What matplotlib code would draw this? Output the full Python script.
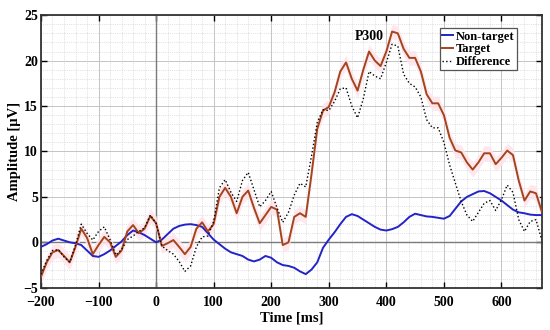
import numpy as np
from matplotlib import pyplot as plt
from matplotlib.ticker import MultipleLocator

# time axis, 10 ms steps
time_ms = list(range(-200, 680, 10))

non_target = [-0.5, -0.2, 0.2, 0.4, 0.2, 0.0, -0.1, -0.3, -0.9, -1.5,
              -1.6, -1.3, -0.9, -0.4, 0.1, 0.8, 1.3, 1.1, 0.8, 0.4,
              0.0, 0.3, 0.9, 1.5, 1.8, 1.95, 2.0, 1.9, 1.7, 1.0,
              0.3, -0.2, -0.7, -1.1, -1.3, -1.5, -1.9, -2.1, -1.9, -1.5,
              -1.7, -2.2, -2.5, -2.6, -2.8, -3.2, -3.5, -3.0, -2.2, -0.6,
              0.3, 1.1, 2.0, 2.8, 3.1, 2.9, 2.5, 2.1, 1.7, 1.4,
              1.3, 1.45, 1.7, 2.2, 2.8, 3.15, 3.0, 2.85, 2.8, 2.7,
              2.6, 2.9, 3.7, 4.5, 5.0, 5.3, 5.6, 5.65, 5.4, 5.0,
              4.6, 4.1, 3.6, 3.3, 3.2, 3.05, 3.0, 3.0]

target = [-3.8, -2.2, -1.1, -0.85, -1.5, -2.2, -0.5, 1.5, 0.5, -1.3,
          -0.3, 0.6, 0.0, -1.6, -0.9, 1.2, 1.9, 1.0, 1.5, 2.9,
          2.1, -0.4, -0.1, 0.25, -0.5, -1.3, -0.5, 1.5, 2.2, 1.2,
          2.0, 5.0, 6.0, 5.0, 3.2, 5.0, 5.7, 3.8, 2.1, 3.0,
          3.9, 3.6, -0.3, 0.0, 2.8, 3.2, 2.8, 7.5, 12.5, 14.5,
          14.9, 16.5, 18.8, 19.8, 18.0, 16.7, 19.0, 21.0, 20.0, 19.4,
          21.0, 23.2, 23.0, 21.3, 20.3, 20.3, 18.8, 16.3, 15.3, 15.3,
          14.0, 11.5, 10.1, 9.9, 8.8, 8.0, 8.8, 9.8, 9.8, 8.6,
          9.3, 10.1, 9.6, 6.8, 4.6, 5.6, 5.4, 3.4]

difference = [-3.5, -2.0, -0.9, -0.8, -1.6, -2.2, -0.3, 2.0, 1.0, 0.25,
              1.2, 1.7, 0.3, -1.4, -0.8, 0.3, 0.7, 1.2, 1.6, 3.0,
              2.1, -0.4, -0.9, -1.3, -2.1, -3.2, -2.6, -0.5, 0.6, 0.7,
              2.3, 6.0, 6.9, 5.5, 4.5, 6.8, 7.7, 5.8, 3.9, 4.6,
              5.6, 3.8, 2.2, 3.3, 5.2, 6.5, 6.1, 9.5, 13.2, 14.6,
              14.5, 15.5, 16.9, 17.0, 15.0, 13.7, 15.8, 18.8, 18.3, 18.0,
              19.8, 21.8, 21.6, 18.5, 17.5, 17.1, 16.0, 13.5, 12.6, 12.6,
              11.0, 8.5, 6.5, 4.5, 3.0, 2.3, 3.3, 4.3, 4.6, 3.5,
              4.7, 6.3, 5.5, 2.5, 1.2, 2.3, 2.5, 0.25]

plt.rcParams['font.family'] = ['Liberation Serif', 'DejaVu Serif']
plt.rcParams['font.weight'] = 'bold'

fig = plt.figure(figsize=(5.5, 3.3), dpi=100)
ax = fig.add_axes([0.0745, 0.128, 0.9105, 0.826])

t = np.array(time_ms)
tg = np.array(target)

# grid
ax.xaxis.set_major_locator(MultipleLocator(100))
ax.xaxis.set_minor_locator(MultipleLocator(20))
ax.yaxis.set_major_locator(MultipleLocator(5))
ax.yaxis.set_minor_locator(MultipleLocator(1))
ax.grid(which='major', color='#c4c4c4', linewidth=0.7, linestyle='-')
ax.grid(which='minor', color='#c8c8c8', linewidth=0.5, linestyle=':')
ax.set_axisbelow(True)

ax.axhline(0, color='#7a7a7a', linewidth=1.0, zorder=1)
ax.axvline(0, color='#7a7a7a', linewidth=1.0, zorder=1)

# shaded band around the target curve
ax.fill_between(t, tg - 0.8, tg + 0.8, color='#ffe3ec', alpha=0.85, linewidth=0, zorder=1.5)

ax.plot(t, non_target, color='#2323c8', linewidth=1.4, label='Non-target', zorder=3)
ax.plot(t, target, color='#a4441c', linewidth=1.4, label='Target', zorder=3)
ax.plot(t, difference, color='black', linewidth=1.0, linestyle=':', label='Difference', zorder=3)

ax.text(370, 22.6, 'P300', fontsize=10, fontweight='bold', ha='center', va='center')

ax.set_xlim(-200, 670)
ax.set_ylim(-5, 25)
ax.set_xlabel('Time [ms]', fontsize=10.5, fontweight='bold', labelpad=2)
ax.set_ylabel('Amplitude [\u00b5V]', fontsize=10.5, fontweight='bold', labelpad=2)

ax.tick_params(which='major', direction='in', length=4, width=1, top=True, right=True,
               labelsize=10)
ax.tick_params(axis='x', pad=5.8)
ax.tick_params(axis='y', pad=2)
ax.tick_params(which='minor', length=0)
for s in ax.spines.values():
    s.set_linewidth(1.3)
    s.set_color('#333333')

leg = ax.legend(loc='upper right', bbox_to_anchor=(0.963, 0.975), fontsize=9,
                handlelength=0.9, handletextpad=0.2, borderpad=0.2, labelspacing=0.05,
                fancybox=False, framealpha=1, edgecolor='#555555')
leg.get_frame().set_linewidth(0.9)

fig.savefig('out.png', dpi=100)
